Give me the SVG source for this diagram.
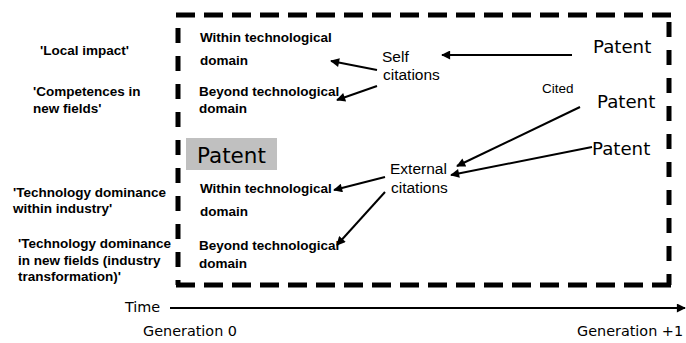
<svg xmlns="http://www.w3.org/2000/svg" width="686" height="343" viewBox="0 0 686 343">
  <style>
    .lbl { font-family: "Liberation Sans", Arial, sans-serif; font-weight: bold; font-size: 13.5px; fill: #000; }
    .cit { font-family: "Liberation Sans", Arial, sans-serif; font-size: 15.5px; fill: #000; }
    .pat { font-family: "DejaVu Sans", Verdana, sans-serif; font-size: 18.2px; fill: #000; }
    .axis { font-family: "DejaVu Sans", Verdana, sans-serif; font-size: 14.4px; fill: #000; }
    .frame-h { stroke: #000; stroke-width: 5; stroke-dasharray: 19 9; fill: none; }
    .frame-v { stroke: #000; stroke-width: 5; stroke-dasharray: 15 13; fill: none; }
    .arr { stroke: #000; stroke-width: 2; fill: none; marker-end: url(#head); }
  </style>
  <defs>
    <marker id="head" viewBox="0 0 10 10" refX="9" refY="5" markerWidth="5.5" markerHeight="4.5" orient="auto" markerUnits="strokeWidth">
      <path d="M0,0 L10,5 L0,10 z" fill="#000"/>
    </marker>
  </defs>

  <rect width="686" height="343" fill="#fff"/>

  <!-- dashed frame around generation 0 / generation +1 -->
  <g id="frame">
    <line class="frame-h" x1="176" y1="15" x2="671" y2="15"/>
    <line class="frame-h" x1="176" y1="285" x2="671" y2="285"/>
    <line class="frame-v" x1="178" y1="28" x2="178" y2="285"/>
    <line class="frame-v" x1="669" y1="22" x2="669" y2="285"/>
  </g>

  <!-- impact labels on the left -->
  <g id="impact-labels">
    <text class="lbl" x="40" y="55">'Local impact'</text>
    <text class="lbl" x="33" y="96">'Competences in</text>
    <text class="lbl" x="33" y="113">new fields'</text>
    <text class="lbl" x="13" y="197">'Technology dominance</text>
    <text class="lbl" x="13" y="213">within industry'</text>
    <text class="lbl" x="18" y="248">'Technology dominance</text>
    <text class="lbl" x="18" y="265">in new fields (industry</text>
    <text class="lbl" x="18" y="281">transformation)'</text>
  </g>

  <!-- citing domains -->
  <g id="self-within">
    <text class="lbl" x="200" y="42">Within technological</text>
    <text class="lbl" x="200" y="65">domain</text>
  </g>
  <g id="self-beyond">
    <text class="lbl" x="199" y="96">Beyond technological</text>
    <text class="lbl" x="199" y="113">domain</text>
  </g>
  <g id="ext-within">
    <text class="lbl" x="200" y="193">Within technological</text>
    <text class="lbl" x="200" y="216">domain</text>
  </g>
  <g id="ext-beyond">
    <text class="lbl" x="199" y="250">Beyond technological</text>
    <text class="lbl" x="199" y="268">domain</text>
  </g>

  <!-- focal patent -->
  <g id="focal-patent">
    <rect x="186" y="138" width="91" height="32" fill="#c0c0c0"/>
    <text class="pat" x="197" y="163" style="font-size:21.5px">Patent</text>
  </g>

  <!-- citation types -->
  <g id="self-citations">
    <text class="cit" x="382" y="62">Self</text>
    <text class="cit" x="383" y="80">citations</text>
  </g>
  <g id="external-citations">
    <text class="cit" x="390" y="174">External</text>
    <text class="cit" x="391" y="193">citations</text>
  </g>

  <!-- cited patents -->
  <g id="patent-1"><text class="pat" x="593" y="53">Patent</text></g>
  <g id="patent-2"><text class="pat" x="597" y="108">Patent</text></g>
  <g id="patent-3"><text class="pat" x="592" y="155">Patent</text></g>
  <g id="cited-label"><text class="cit" x="542" y="93" style="font-size:13.5px">Cited</text></g>

  <!-- citation links -->
  <g id="connectors">
    <line class="arr" x1="572" y1="55" x2="442" y2="55"/>
    <line class="arr" x1="377" y1="70" x2="331" y2="61"/>
    <line class="arr" x1="377" y1="86" x2="337" y2="100"/>
    <line class="arr" x1="580" y1="107" x2="457" y2="166"/>
    <line class="arr" x1="592" y1="147" x2="451" y2="175"/>
    <line class="arr" x1="385" y1="177" x2="334" y2="190"/>
    <line class="arr" x1="385" y1="192" x2="337" y2="245"/>
    <line class="arr" x1="170" y1="308" x2="685" y2="308"/>
  </g>

  <!-- time axis labels -->
  <g id="time-axis">
    <text class="axis" x="125" y="312">Time</text>
    <text class="axis" x="143" y="336">Generation 0</text>
    <text class="axis" x="577" y="336">Generation +1</text>
  </g>
</svg>
